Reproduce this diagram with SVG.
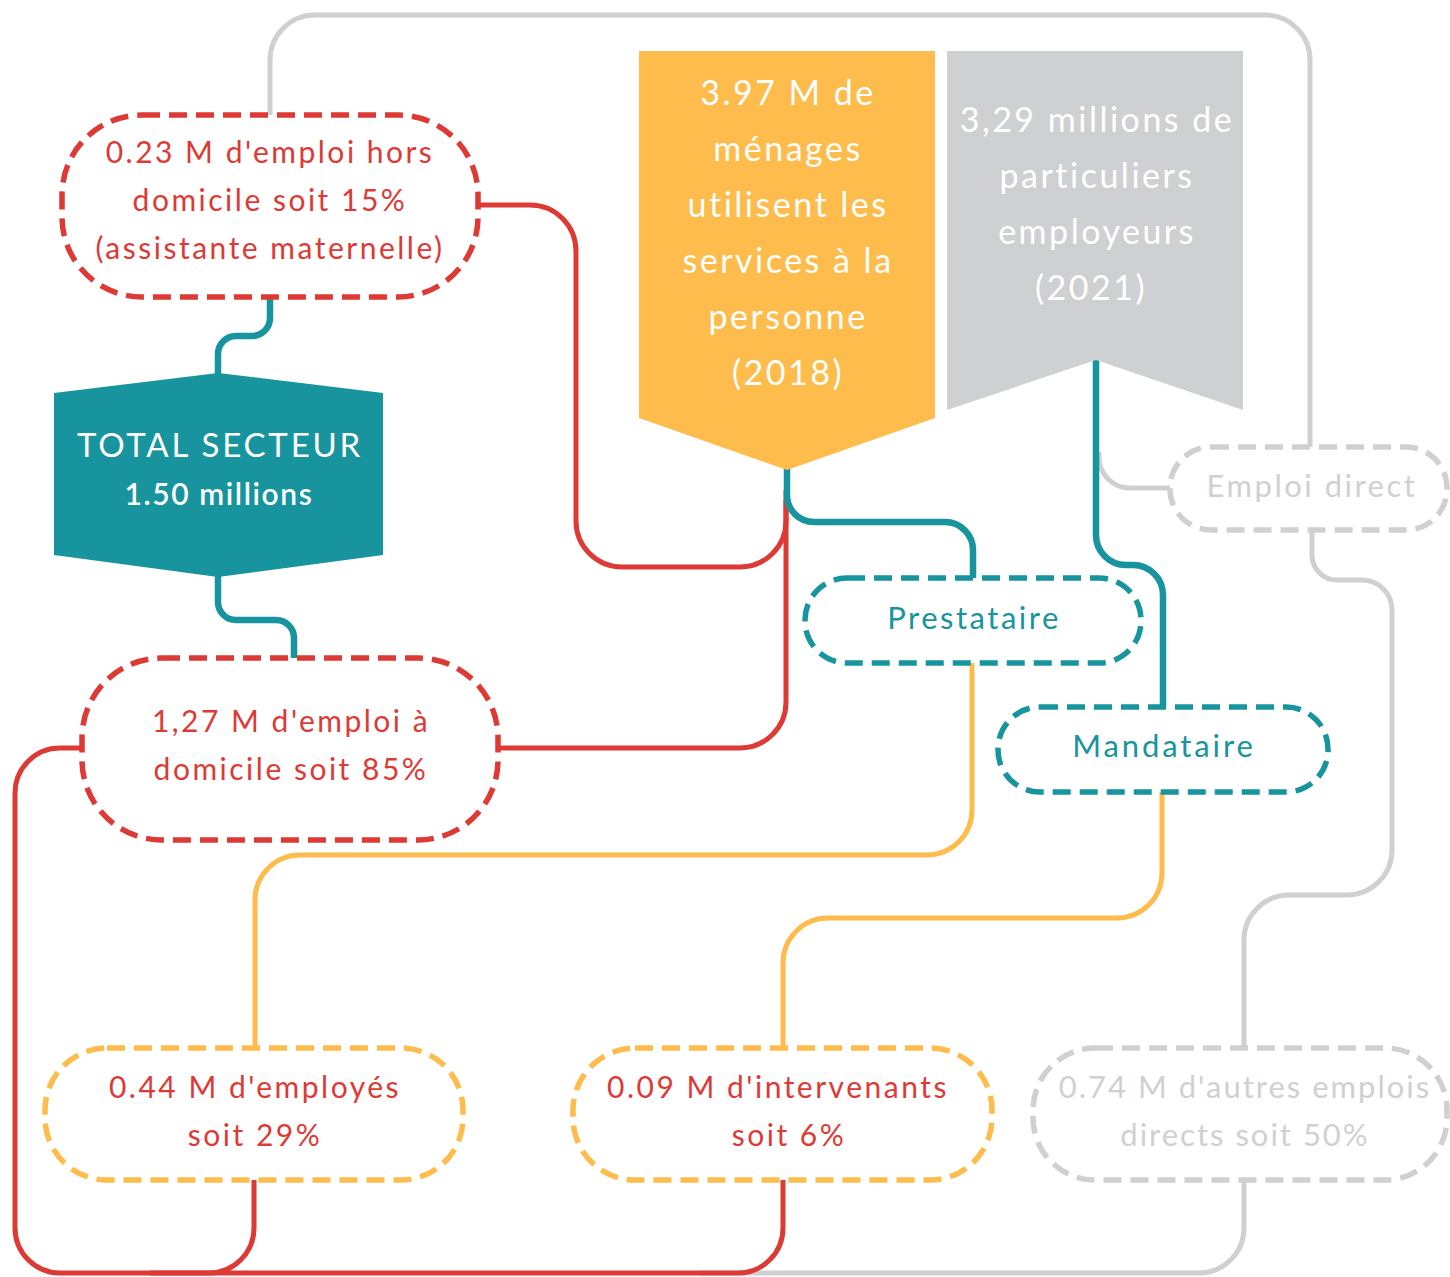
<svg xmlns="http://www.w3.org/2000/svg" width="1450" height="1277" viewBox="0 0 1450 1277">
  <style>
    text { font-family: "Lato", "Open Sans", "Liberation Sans", sans-serif; text-anchor: middle; letter-spacing: 2.5px; }
    .link { fill: none; stroke-width: 5; stroke-linecap: butt; stroke-linejoin: round; }
    .red { stroke: #DD3A35; }
    .teal { stroke: #17949E; }
    .link.teal { stroke-width: 6.5; }
    .yel { stroke: #FDBC4B; }
    .gray { stroke: #CFD0D2; }
    .pill { fill: #FFFFFF; stroke-width: 5.5; stroke-dasharray: 18 9; }
    .t-red { fill: #DD3A35; font-size: 30px; }
    .t-teal { fill: #17949E; font-size: 31px; }
    .t-gray { fill: #CFD0D2; font-size: 31px; }
    .t-white { fill: #FFFFFF; font-size: 34px; }
  </style>

  <!-- connectors -->
  <g id="connectors">
    <!-- grey loop across the top -->
    <path class="link gray" d="M270,115 V60 A45,45 0 0 1 315,15 H1265 A45,45 0 0 1 1310,60 V447"/>
    <!-- grey: emploi direct -> particuliers line -->
    <path class="link gray" d="M1170,488 H1130 A31,31 0 0 1 1099,457 V452"/>
    <!-- grey: emploi direct -> autres emplois -->
    <path class="link gray" d="M1312,530 V555 A25,25 0 0 0 1337,580 H1362 A30,30 0 0 1 1392,610 V850 A45,45 0 0 1 1347,895 H1289 A45,45 0 0 0 1244,940 V1048"/>
    <!-- grey: autres emplois -> bottom line -->
    <path class="link gray" d="M1244,1180 V1228 A45,45 0 0 1 1199,1273 H700"/>

    <!-- red: hors domicile -> menages -->
    <path class="link red" d="M478,205 H530 A46,46 0 0 1 576,251 V521 A46,46 0 0 0 622,567 H740 A46,46 0 0 0 786,521 V490"/>
    <!-- red: menages -> a domicile -->
    <path class="link red" d="M786,500 V702 A46,46 0 0 1 740,748 H498"/>
    <!-- red: a domicile -> bottom loop -> intervenants -->
    <path class="link red" d="M82,748 H60 A45,45 0 0 0 15,793 V1228 A45,45 0 0 0 60,1273 H738 A45,45 0 0 0 783,1228 V1180"/>
    <!-- red: employes -> bottom line -->
    <path class="link red" d="M254,1180 V1228 A45,45 0 0 1 209,1273 H150"/>

    <!-- teal: hors domicile -> total -->
    <path class="link teal" d="M270,297 V318 A18,18 0 0 1 252,336 H236 A18,18 0 0 0 218,354 V376"/>
    <!-- teal: total -> a domicile -->
    <path class="link teal" d="M218,575 V602 A18,18 0 0 0 236,620 H276 A18,18 0 0 1 294,638 V658"/>
    <!-- teal: menages -> prestataire -->
    <path class="link teal" d="M787,468 V495 A27,27 0 0 0 814,522 H945 A28,28 0 0 1 973,550 V578"/>
    <!-- teal: particuliers -> mandataire -->
    <path class="link teal" d="M1096,360 V535 A30,30 0 0 0 1126,565 H1133 A30,30 0 0 1 1163,595 V707"/>

    <!-- yellow: prestataire -> employes -->
    <path class="link yel" d="M972,663 V810 A45,45 0 0 1 927,855 H300 A45,45 0 0 0 255,900 V1048"/>
    <!-- yellow: mandataire -> intervenants -->
    <path class="link yel" d="M1162,792 V873 A45,45 0 0 1 1117,918 H828 A45,45 0 0 0 783,963 V1048"/>
  </g>

  <!-- 0.23 M hors domicile -->
  <g id="hors-domicile">
    <rect class="pill red" x="62" y="115" width="416" height="182" rx="80" ry="80"/>
    <text class="t-red" x="270" y="163">0.23 M d'emploi hors</text>
    <text class="t-red" x="270" y="211">domicile soit 15%</text>
    <text class="t-red" x="270" y="259">(assistante maternelle)</text>
  </g>

  <!-- total secteur -->
  <g id="total-secteur">
    <polygon points="218,373 383,393 383,555 218,577 54,555 54,393" fill="#17949E"/>
    <text class="t-white" x="220" y="457" style="font-size:33px; letter-spacing:2.8px">TOTAL SECTEUR</text>
    <text class="t-white" x="219" y="505" style="font-size:30px; font-weight:600; letter-spacing:1.6px">1.50 millions</text>
  </g>

  <!-- 1,27 M a domicile -->
  <g id="a-domicile">
    <rect class="pill red" x="82" y="658" width="416" height="182" rx="80" ry="80"/>
    <text class="t-red" x="291" y="732">1,27 M d'emploi à</text>
    <text class="t-red" x="291" y="780">domicile soit 85%</text>
  </g>

  <!-- 3.97 M menages -->
  <g id="menages">
    <polygon points="639,51 935,51 935,418 787,470 639,418" fill="#FDBC4B"/>
    <text class="t-white" x="788" y="105">3.97 M de</text>
    <text class="t-white" x="788" y="161">ménages</text>
    <text class="t-white" x="788" y="217">utilisent les</text>
    <text class="t-white" x="788" y="273">services à la</text>
    <text class="t-white" x="788" y="329">personne</text>
    <text class="t-white" x="788" y="385">(2018)</text>
  </g>

  <!-- 3,29 millions particuliers employeurs -->
  <g id="particuliers">
    <polygon points="947,51 1243,51 1243,410 1096,360 947,410" fill="#CFD0D2"/>
    <text class="t-white" x="1097" y="132">3,29 millions de</text>
    <text class="t-white" x="1097" y="188">particuliers</text>
    <text class="t-white" x="1097" y="244">employeurs</text>
    <text class="t-white" x="1091" y="300">(2021)</text>
  </g>

  <!-- emploi direct -->
  <g id="emploi-direct">
    <rect class="pill gray" x="1170" y="447" width="277" height="83" rx="41" ry="41"/>
    <text class="t-gray" x="1312" y="497">Emploi direct</text>
  </g>

  <!-- prestataire -->
  <g id="prestataire">
    <rect class="pill teal" x="805" y="578" width="336" height="85" rx="42" ry="42"/>
    <text class="t-teal" x="974" y="629">Prestataire</text>
  </g>

  <!-- mandataire -->
  <g id="mandataire">
    <rect class="pill teal" x="998" y="707" width="330" height="85" rx="42" ry="42"/>
    <text class="t-teal" x="1164" y="757" style="letter-spacing:2.9px">Mandataire</text>
  </g>

  <!-- 0.44 M employes -->
  <g id="employes">
    <rect class="pill yel" x="45" y="1048" width="418" height="132" rx="62" ry="62"/>
    <text class="t-red" x="255" y="1098">0.44 M d'employés</text>
    <text class="t-red" x="255" y="1146">soit 29%</text>
  </g>

  <!-- 0.09 M intervenants -->
  <g id="intervenants">
    <rect class="pill yel" x="573" y="1048" width="419" height="132" rx="62" ry="62"/>
    <text class="t-red" x="778" y="1098">0.09 M d'intervenants</text>
    <text class="t-red" x="789" y="1146">soit 6%</text>
  </g>

  <!-- 0.74 M autres emplois -->
  <g id="autres-emplois">
    <rect class="pill gray" x="1033" y="1048" width="414" height="132" rx="62" ry="62"/>
    <text class="t-gray" x="1245" y="1098" style="letter-spacing:2px">0.74 M d'autres emplois</text>
    <text class="t-gray" x="1245" y="1146" style="letter-spacing:2px">directs soit 50%</text>
  </g>
</svg>
